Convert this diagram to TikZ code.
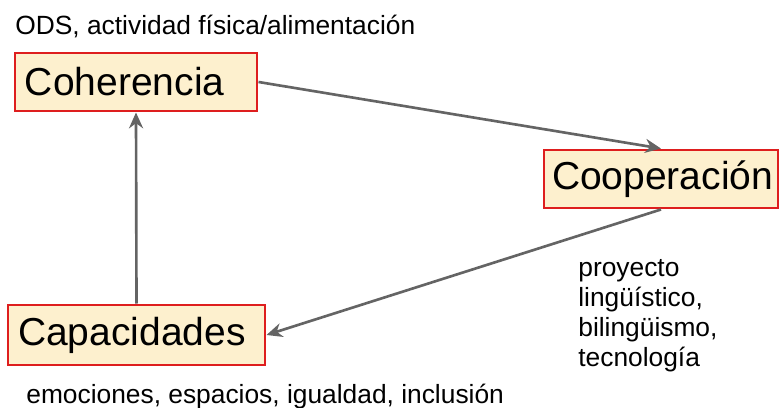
\documentclass[tikz,border=0pt]{standalone}
\usepackage{fontspec}
\setmainfont{Liberation Sans}
\usetikzlibrary{arrows.meta}

\definecolor{rojo}{RGB}{222,30,30}
\definecolor{crema}{RGB}{253,240,206}
\definecolor{gris}{RGB}{100,100,100}

\tikzset{
  caja/.style={draw=rojo, fill=crema, line width=1.7pt, inner ysep=0pt,
    inner xsep=10*0.02cm, align=left,
    minimum height=58*0.02cm, font=\fontsize{22.2}{26}\selectfont},
  flecha/.style={draw=gris, line width=1.5pt, -{Stealth[length=9pt,width=8pt]}},
  nota/.style={inner sep=0pt, anchor=west, font=\fontsize{15}{17}\selectfont}
}

\begin{document}
\begin{tikzpicture}[x=0.02cm, y=-0.02cm]
      \useasboundingbox (0,0) rectangle (779,408);

      % cajas
      \node[caja, text width=222*0.02cm] (coh) at (136,82) {Coherencia};
      \node[caja, inner xsep=8*0.02cm, text width=218*0.02cm] (coop) at (661,179) {Cooperación};
      \node[caja, text width=237*0.02cm, minimum height=60*0.02cm] (cap) at (136.5,335) {Capacidades};

      % notas
      \node[nota] (ods) at (15,26.5) {ODS, actividad física/alimentación};
      \node[nota] (emo) at (26,397) {emociones, espacios, igualdad, inclusión};
      \node[nota, align=left] (proy) at (578,316) {proyecto\\lingüístico,\\bilingüismo,\\tecnología};

      % flechas
      \draw[flecha] (coh.east) -- (coop.north);
      \draw[flecha] (coop.south) -- (cap.east);
      \draw[flecha] (cap.north) -- (coh.south);
    \end{tikzpicture}
\end{document}
